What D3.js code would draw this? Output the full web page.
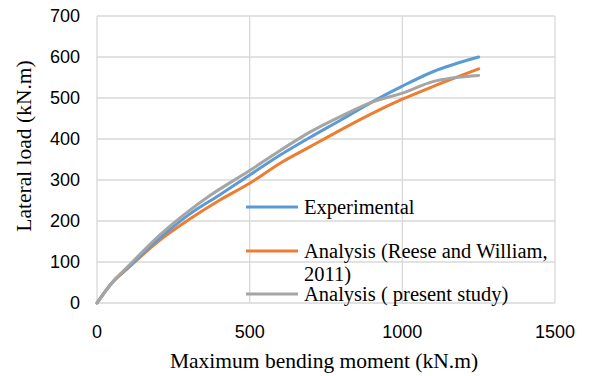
<!DOCTYPE html>
<html><head><meta charset="utf-8">
<script src="https://cdn.jsdelivr.net/npm/d3@7"></script>
<style>body{margin:0;background:#fff}svg{display:block}</style>
</head><body>
<svg id="c" width="589" height="376"></svg>
<script>
const xTicks = [0, 500, 1000, 1500];
const yTicks = [0, 100, 200, 300, 400, 500, 600, 700];
const seriesNames = ["Experimental", "Analysis (Reese and William, 2011)", "Analysis ( present study)"];
const experimental = [[0,0],[50,50],[100,86],[200,155],[300,215],[400,263],[500,312],[600,361],[700,405],[800,447],[900,490],[1000,529],[1100,564],[1250,600]];
const reese = [[0,0],[50,50],[100,84],[200,150],[300,203],[400,250],[500,292],[600,341],[700,382],[800,423],[900,462],[1000,497],[1100,528],[1250,571]];
const present = [[0,0],[50,50],[100,88],[200,162],[300,224],[370,262],[500,323],[600,372],[700,418],[800,456],[900,490],[1000,512],[1100,540],[1250,555]];

const svg = d3.select("#c");
const L = 97, R = 555, T = 16, B = 303;
const x = d3.scaleLinear().domain([0,1500]).range([L,R]);
const y = d3.scaleLinear().domain([0,700]).range([B,T]);
const grid = "#d9d9d9";

svg.append("g").selectAll("line").data(yTicks).join("line")
  .attr("x1",L).attr("x2",R).attr("y1",d=>y(d)).attr("y2",d=>y(d))
  .attr("stroke",grid).attr("stroke-width",1.3);
svg.append("g").selectAll("line").data(xTicks).join("line")
  .attr("y1",T).attr("y2",B).attr("x1",d=>x(d)).attr("x2",d=>x(d))
  .attr("stroke",grid).attr("stroke-width",1.3);

const tickFont = "'Liberation Sans', Arial, sans-serif";
svg.append("g").selectAll("text").data(yTicks).join("text")
  .attr("x",80).attr("y",d=>y(d)).attr("dy","0.35em").attr("text-anchor","end")
  .attr("font-family",tickFont).attr("font-size",18).attr("fill","#000").text(d=>d);
svg.append("g").selectAll("text").data(xTicks).join("text")
  .attr("x",d=>x(d)).attr("y",338).attr("text-anchor","middle")
  .attr("font-family",tickFont).attr("font-size",18).attr("fill","#000").text(d=>d);

const serif = "'Liberation Serif', 'Times New Roman', serif";
svg.append("text").attr("x",324).attr("y",368).attr("text-anchor","middle")
  .attr("font-family",serif).attr("font-size",21.5).text("Maximum bending moment (kN.m)");
svg.append("text").attr("transform","translate(31,146) rotate(-90)").attr("text-anchor","middle")
  .attr("font-family",serif).attr("font-size",21.5).text("Lateral load (kN.m)");

const colors = ["#5b9bd5","#ed7d31","#a5a5a5"];
const line = d3.line().x(d=>x(d[0])).y(d=>y(d[1])).curve(d3.curveMonotoneX);
const data = [experimental, reese, present];
[1,0,2].forEach(i=>{
  svg.append("path").attr("d",line(data[i])).attr("fill","none")
    .attr("stroke",colors[i]).attr("stroke-width",3).attr("stroke-linecap","round");
});

const leg = [
  {y:207, lines:["Experimental"]},
  {y:251, lines:["Analysis (Reese and William,","2011)"]},
  {y:294, lines:["Analysis ( present study)"]}
];
leg.forEach((d,i)=>{
  svg.append("line").attr("x1",246).attr("x2",298).attr("y1",d.y).attr("y2",d.y)
    .attr("stroke",colors[i]).attr("stroke-width",3);
  const t = svg.append("text").attr("x",304).attr("y",d.y+6.5)
    .attr("font-family",serif).attr("font-size",20.5).attr("fill","#000");
  d.lines.forEach((s,j)=>t.append("tspan").attr("x",304).attr("dy",j===0?0:23).text(s));
});
</script>
</body></html>
